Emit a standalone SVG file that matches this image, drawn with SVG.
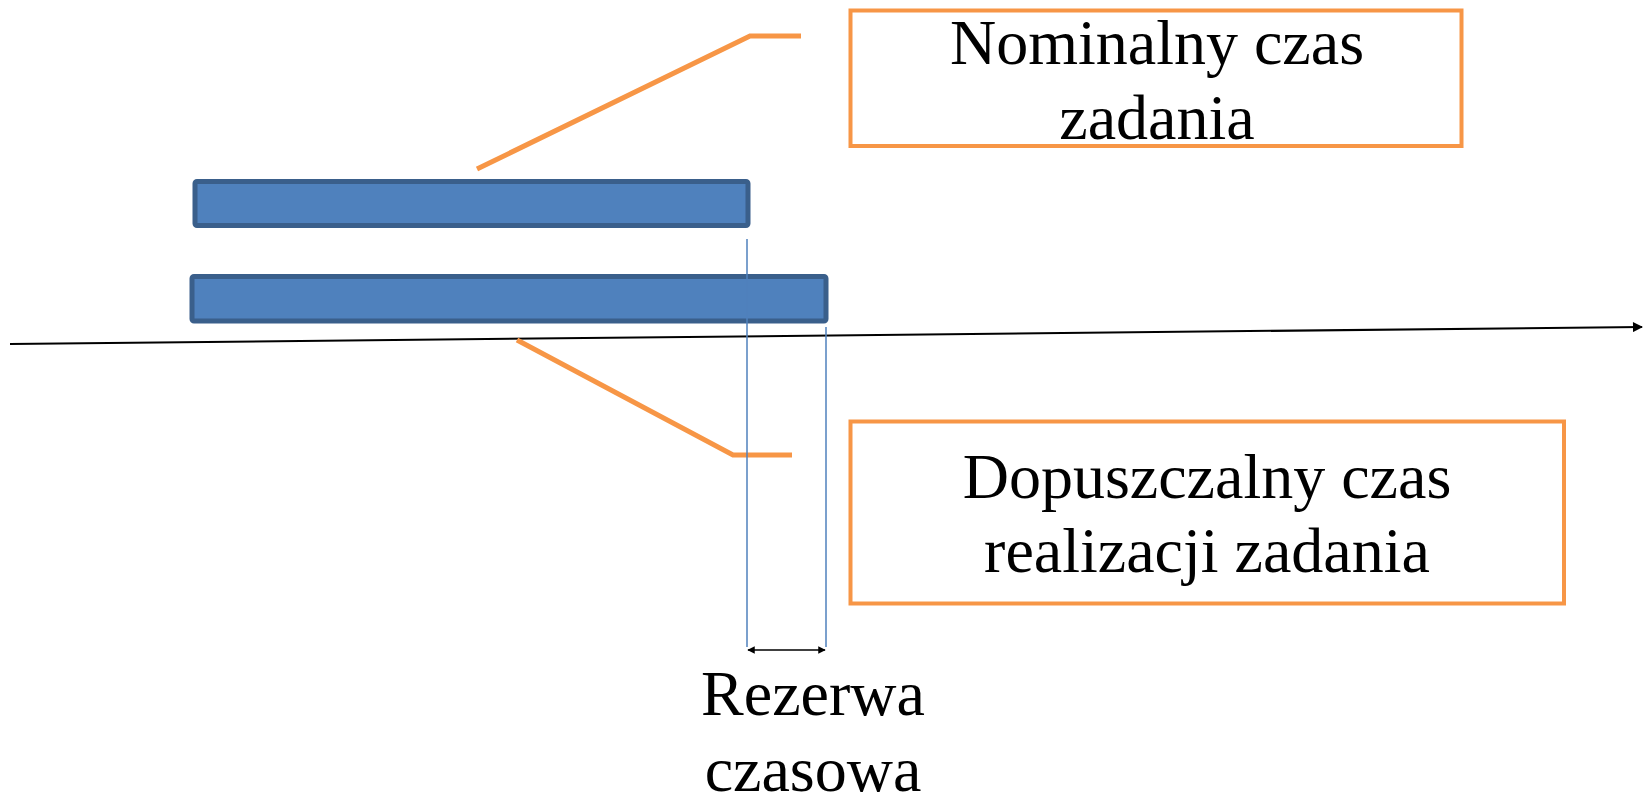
<svg xmlns="http://www.w3.org/2000/svg" width="1646" height="799" viewBox="0 0 1646 799">
  <style>
    .bar { fill: #4F81BD; stroke: #3A5F8B; stroke-width: 5; }
    .callout { fill: none; stroke: #F79646; stroke-width: 5; stroke-linejoin: miter; }
    .box { fill: #FFFFFF; stroke: #F79646; stroke-width: 4; }
    .guide { stroke: #4F81BD; stroke-width: 1.5; fill: none; }
    .axis { stroke: #000000; stroke-width: 2; fill: none; }
    .dim { stroke: #000000; stroke-width: 1.5; fill: none; }
    .label { font-family: "Liberation Serif", "Times New Roman", serif; font-size: 64px; fill: #000000; text-anchor: middle; }
  </style>
  <defs>
    <marker id="axisHead" viewBox="0 0 10 10" refX="9" refY="5" markerWidth="7" markerHeight="5" markerUnits="strokeWidth" orient="auto">
      <path d="M0,0 L10,5 L0,10 Z" fill="#000000"/>
    </marker>
    <marker id="dimHead" viewBox="0 0 10 10" refX="9" refY="5" markerWidth="7" markerHeight="5" markerUnits="strokeWidth" orient="auto-start-reverse">
      <path d="M0,0 L10,5 L0,10 Z" fill="#000000"/>
    </marker>
  </defs>

  <!-- task bars -->
  <g id="bar-nominal">
    <rect class="bar" x="195" y="181.5" width="553" height="44" rx="2"/>
  </g>
  <g id="bar-allowed">
    <rect class="bar" x="192" y="276.5" width="634" height="44.5" rx="2"/>
  </g>

  <!-- time axis, callouts, guides and slack dimension -->
  <g id="connectors">
    <line class="axis" x1="10" y1="344" x2="1642" y2="327" marker-end="url(#axisHead)"/>
    <polyline class="callout" points="477,169 750,36 801,36"/>
    <polyline class="callout" points="517,340 733,455 792,455"/>
    <line class="guide" x1="747" y1="239" x2="747" y2="647"/>
    <line class="guide" x1="826" y1="327" x2="826" y2="647"/>
    <line class="dim" x1="748" y1="650" x2="825" y2="650" marker-start="url(#dimHead)" marker-end="url(#dimHead)"/>
  </g>

  <!-- labels -->
  <g id="label-nominal">
    <rect class="box" x="850.5" y="10.5" width="611" height="135.5"/>
    <text class="label" x="1157" y="64">Nominalny czas</text>
    <text class="label" x="1157" y="139">zadania</text>
  </g>
  <g id="label-allowed">
    <rect class="box" x="850.5" y="421.5" width="713.5" height="182"/>
    <text class="label" x="1207" y="498">Dopuszczalny czas</text>
    <text class="label" x="1207" y="572">realizacji zadania</text>
  </g>
  <g id="label-slack">
    <text class="label" x="813" y="715">Rezerwa</text>
    <text class="label" x="813" y="791">czasowa</text>
  </g>
</svg>
